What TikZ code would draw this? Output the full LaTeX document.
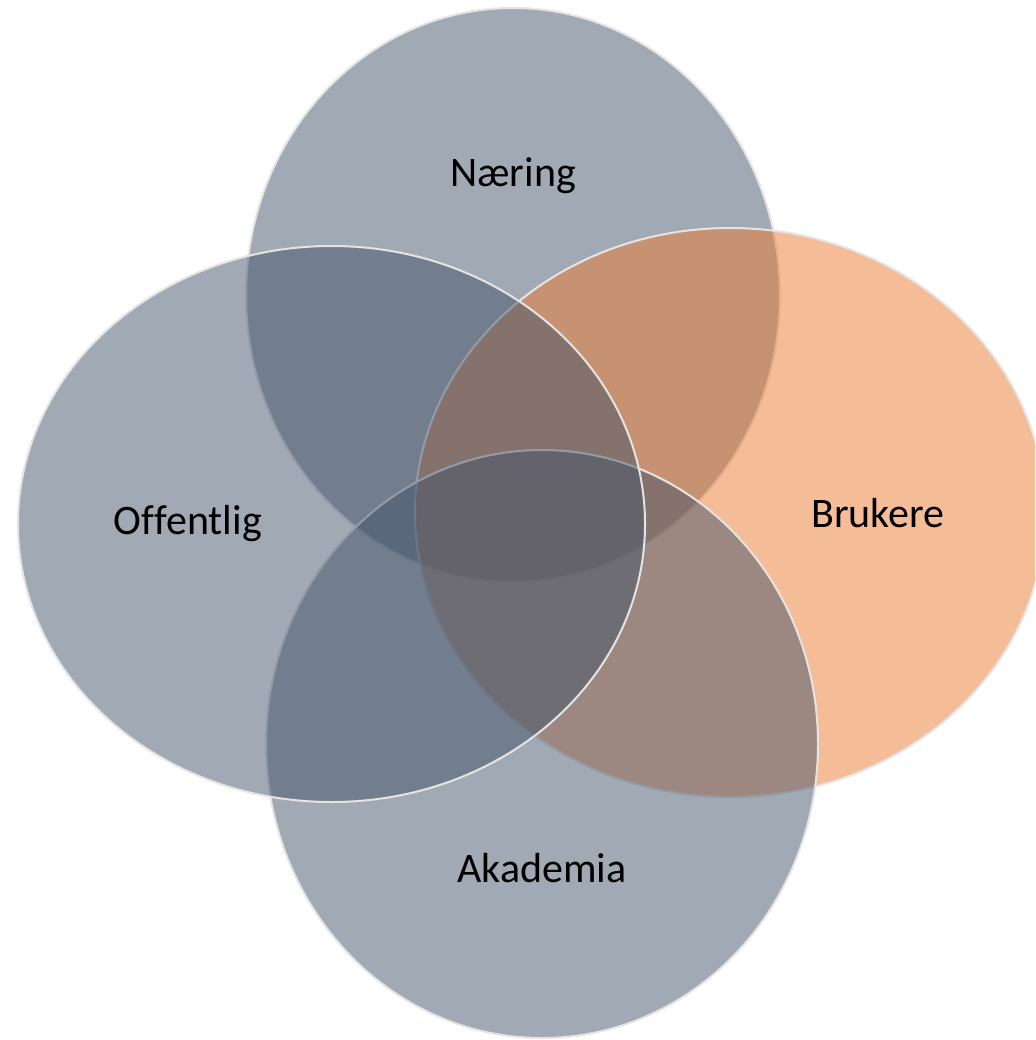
\documentclass[tikz,border=0pt]{standalone}
\usepackage{fontspec}
\setmainfont[Ligatures=NoCommon]{Carlito}
\definecolor{setgray}{HTML}{44546A}
\definecolor{setorange}{HTML}{ED7D31}
\definecolor{edgecol}{HTML}{E4E4E4}
\begin{document}
\begin{tikzpicture}[x=1pt,y=-1pt,
  setshape/.style={fill opacity=0.5, draw=edgecol, draw opacity=1, line width=2pt},
  setlabel/.style={font=\fontsize{42}{50}\selectfont, text=black, inner sep=0pt}]
\useasboundingbox (0,0) rectangle (1035,1040);
\clip (0,0) rectangle (1035,1040);
\fill[white] (0,0) rectangle (1035,1040);
% Næring (top)
\path[setshape, fill=setgray] (513,295) ellipse [x radius=267, y radius=287];
% Brukere (right)
\path[setshape, fill=setorange] (730,512.5) ellipse [x radius=315, y radius=284.5];
% Akademia (bottom)
\path[setshape, fill=setgray] (542,744) ellipse [x radius=276, y radius=294];
% Offentlig (left)
\path[setshape, fill=setgray] (331.5,524) ellipse [x radius=313.5, y radius=278];
\node[setlabel] (naering) at (513,176) {Næring};
\node[setlabel] (brukere) at (878,513) {Brukere};
\node[setlabel] (akademia) at (542,868) {Akademia};
\node[setlabel] (offentlig) at (188,524) {Of\kern0ptfentlig};
\end{tikzpicture}
\end{document}
